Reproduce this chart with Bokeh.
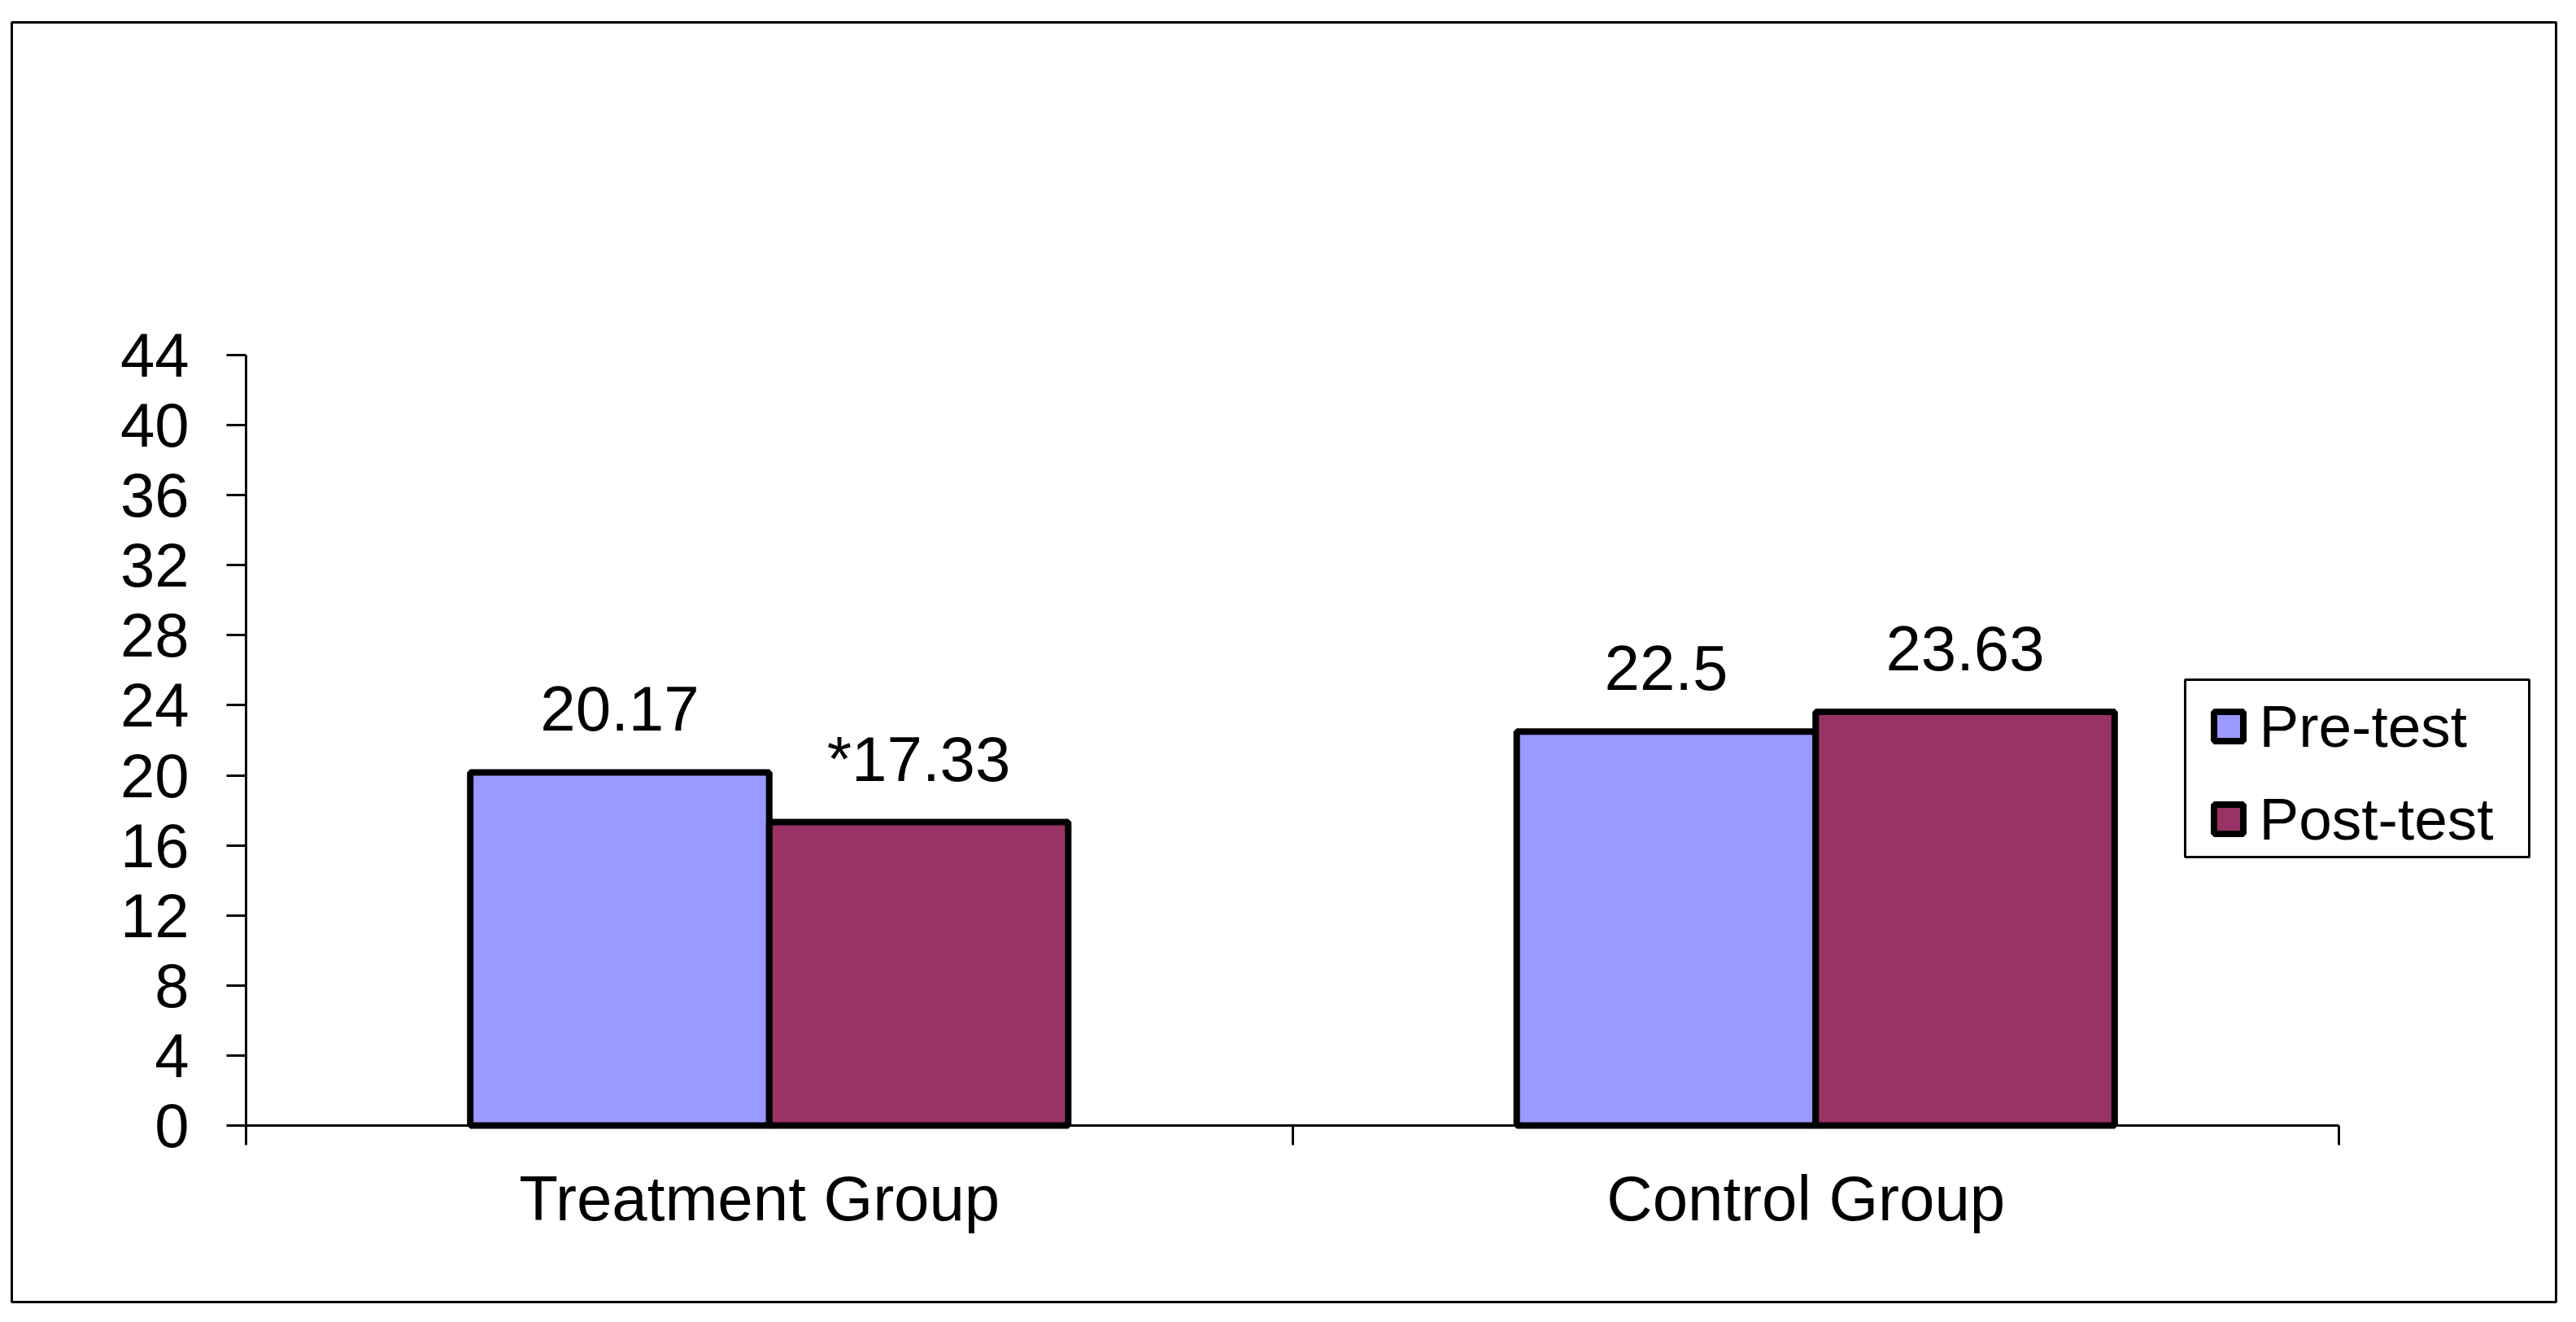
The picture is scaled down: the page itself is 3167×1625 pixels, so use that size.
from bokeh.plotting import figure
from bokeh.models import (ColumnDataSource, Range1d, LinearAxis,
                          FixedTicker, Legend, LegendItem, BoxAnnotation)
from bokeh.transform import dodge
from bokeh.core.properties import value
from bokeh.embed import file_html
from bokeh.resources import INLINE

# ---- data ----
groups = ["Treatment Group", "Control Group"]
series = ["Pre-test", "Post-test"]
pre = [20.17, 22.5]
post = [17.33, 23.63]
pre_labels = ["20.17", "22.5"]
post_labels = ["*17.33", "23.63"]
y_ticks = [0, 4, 8, 12, 16, 20, 24, 28, 32, 36, 40, 44]
y_max = 44

PRE_COLOR = "#9999FF"
POST_COLOR = "#993366"
FONT = "Liberation Sans"

# category slots: group i occupies [i, i+1] on the x scale, centred at i + 0.5
n = len(groups)
centres = [i + 0.5 for i in range(n)]
bounds = [float(i) for i in range(n + 1)]

src = ColumnDataSource(dict(pos=centres, pre=pre, post=post,
                            pre_lab=pre_labels, post_lab=post_labels))

# ---- layout (canvas pixels) ----
OFF = 0
W, H = 3150, 1610
box_l, box_r, box_t, box_b = 14, 3142, 27, 1600   # outer chart frame
ax_l, ax_r, ax_t, ax_b = 302, 2875, 436, 1383     # plotting area (axes)
ppx = (ax_r - ax_l) / n
ppy = (ax_b - ax_t) / y_max
x_range = Range1d((box_l - ax_l) / ppx, (box_r - ax_l) / ppx)
y_range = Range1d(-(box_b - ax_b) / ppy, (ax_b - box_t) / ppy)

p = figure(width=W, height=H, x_range=x_range, y_range=y_range,
           output_backend="svg", toolbar_location=None,
           x_axis_location=None, y_axis_location=None,
           min_border_left=box_l - OFF, min_border_right=OFF + W - box_r,
           min_border_top=box_t - OFF, min_border_bottom=OFF + H - box_b)
p.outline_line_color = "black"
p.outline_line_width = 3
p.xgrid.visible = False
p.ygrid.visible = False
p.background_fill_color = "white"
p.border_fill_color = "white"

bw = 1 / 3.5
r_pre = p.vbar(x=dodge("pos", -bw / 2), top="pre", width=bw,
               source=src, fill_color=PRE_COLOR, line_color="black", line_width=8)
r_post = p.vbar(x=dodge("pos", bw / 2), top="post", width=bw,
                source=src, fill_color=POST_COLOR, line_color="black", line_width=8)

lab_kw = dict(text_font=value(FONT), text_font_size="78px", text_color="black",
              text_align="center", text_baseline="alphabetic", y_offset=-78)
p.text(x=dodge("pos", -bw / 2), y="pre", text="pre_lab", source=src, **lab_kw)
p.text(x=dodge("pos", bw / 2), y="post", text="post_lab", source=src, **lab_kw)

# y axis
yax = LinearAxis(ticker=FixedTicker(ticks=y_ticks), fixed_location=0, bounds=(0, y_max))
yax.axis_line_width = 3
yax.major_tick_line_width = 3
yax.major_tick_out = 24
yax.major_tick_in = 0
yax.minor_tick_line_color = None
yax.major_label_standoff = 46
yax.major_label_text_font = FONT
yax.major_label_text_font_size = "76px"
yax.major_label_text_color = "black"
p.add_layout(yax, "left")

# x axis: labels at group centres (nudged a little left, as in the source), ticks at boundaries
label_pos = [c - 12 / ppx for c in centres]
xax = LinearAxis(ticker=FixedTicker(ticks=label_pos, minor_ticks=bounds),
                 major_label_overrides={c: g for c, g in zip(label_pos, groups)},
                 fixed_location=0, bounds=(0, n))
xax.axis_line_width = 3
xax.major_tick_line_color = None
xax.major_tick_out = 0
xax.major_tick_in = 0
xax.minor_tick_line_width = 3
xax.minor_tick_line_color = "black"
xax.minor_tick_out = 24
xax.minor_tick_in = 0
xax.major_label_standoff = 21
xax.major_label_text_font = FONT
xax.major_label_text_font_size = "78px"
xax.major_label_text_color = "black"
p.add_layout(xax, "below")

# legend
leg_l, leg_r, leg_t, leg_b = 2686, 3109, 835, 1053
legend = Legend(items=[LegendItem(label=series[0], renderers=[r_pre]),
                       LegendItem(label=series[1], renderers=[r_post])],
                location=(2716.5 - box_l, box_b - 1048))
legend.glyph_width = 45
legend.glyph_height = 45
legend.label_standoff = 16
legend.spacing = 31
legend.padding = 10
legend.margin = 0
legend.border_line_color = None
legend.background_fill_alpha = 0
legend.label_text_font = FONT
legend.label_text_font_size = "73px"
legend.label_text_color = "black"
p.add_layout(legend)

# legend frame (decoration, canvas pixels)
p.add_layout(BoxAnnotation(left=leg_l - OFF, right=leg_r - OFF, top=leg_t - OFF, bottom=leg_b - OFF,
                           left_units="canvas", right_units="canvas",
                           top_units="canvas", bottom_units="canvas",
                           fill_alpha=0, line_color="black", line_width=3,
                           line_alpha=1))

open("out.html", "w").write(file_html(p, INLINE))
